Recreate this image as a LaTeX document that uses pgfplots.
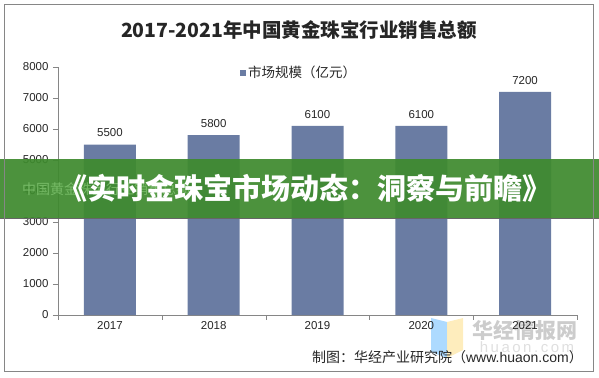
\documentclass[border=0pt]{standalone}
\usepackage{pgfplots}
\pgfplotsset{compat=1.18}
\usepackage{fontspec}
\setmainfont{Liberation Sans}
\newfontfamily\cjk{Noto Sans CJK SC}
\definecolor{barc}{RGB}{106,124,163}
\definecolor{axg}{RGB}{134,134,134}
\definecolor{bann}{RGB}{62,138,46}
\begin{document}
\begin{tikzpicture}
\useasboundingbox (0,0) rectangle (599bp,378bp);
% watermark
\fill[blue!45!cyan!40, opacity=0.8] (431bp,60bp) -- (447bp,56bp) -- (447bp,20bp) -- (431bp,26bp) -- cycle;
\fill[yellow!50!orange!30, opacity=0.8] (447bp,56bp) -- (463bp,60bp) -- (463bp,28bp) -- (447bp,20bp) -- cycle;
\node[text=gray!40, font=\cjk\bfseries\fontsize{21bp}{24bp}\selectfont] at (525bp,48bp) {华经情报网};
\node[text=gray!25, font=\fontsize{15bp}{17bp}\selectfont] at (527bp,31bp) {h\,u\,a\,o\,n\,.\,c\,o\,m};
\begin{axis}[
  at={(58bp,63bp)}, anchor=south west,
  scale only axis, width=519bp, height=248bp,
  xmin=-0.5, xmax=4.5, ymin=0, ymax=8000,
  separate axis lines,
  axis x line*=bottom, axis y line*=left,
  axis line style={-, draw=axg},
  tick align=outside,
  major tick length=5bp,
  tick style={draw=axg},
  ytick={0,1000,...,8000},
  xtick={-0.5,0.5,...,4.5},
  xticklabels={},
  extra x ticks={0,1,2,3,4},
  extra x tick labels={2017,2018,2019,2020,2021},
  extra x tick style={major tick length=0pt},
  /pgf/number format/assume math mode=true,
  /pgf/number format/1000 sep={},
  ticklabel style={font=\fontsize{11.5bp}{13bp}\selectfont, text=black!85},
  yticklabel style={xshift=-1bp},
  xticklabel style={yshift=-3bp},
  ybar, bar width=52bp,
  nodes near coords,
  nodes near coords style={font=\fontsize{11.5bp}{13bp}\selectfont, text=black!85, yshift=4bp, /pgf/number format/1000 sep={}},
  clip=false,
]
\addplot[fill=barc, draw=none] coordinates {(0,5500) (1,5800) (2,6100) (3,6100) (4,7200)};
\end{axis}
% title
\node[font=\cjk\bfseries\fontsize{19.5bp}{24bp}\selectfont, text=black!85] at (299bp,348bp) {2017-2021年中国黄金珠宝行业销售总额};
% legend
\fill[barc] (240bp,302bp) rectangle (246bp,308bp);
\node[anchor=west, font=\cjk\fontsize{13.5bp}{16bp}\selectfont, text=black!85, inner sep=0pt] at (248bp,306bp) {市场规模（亿元）};
% banner
\fill[bann, opacity=0.93] (0bp,160bp) rectangle (599bp,219bp);
\draw[black!60, line width=0.6bp] (0bp,160bp) -- (599bp,160bp);
\node[anchor=west, text={rgb,255:red,118;green,186;blue,102}, font=\cjk\fontsize{14bp}{16bp}\selectfont, inner sep=0pt] at (22bp,189bp) {中国黄金珠宝行业销售总额};
\node[text=white, font=\cjk\bfseries\fontsize{29bp}{32bp}\selectfont] at (305bp,190bp) {《实时金珠宝市场动态：洞察与前瞻》};
% source
\node[anchor=east, font=\cjk\fontsize{14bp}{16bp}\selectfont, text=black!85, inner sep=0pt] at (583bp,21bp) {制图：华经产业研究院（{\fontspec{Liberation Sans}www.huaon.com}）};
% frame
\draw[axg, line width=1bp] (4bp,6bp) rectangle (593bp,373bp);
\end{tikzpicture}
\end{document}
